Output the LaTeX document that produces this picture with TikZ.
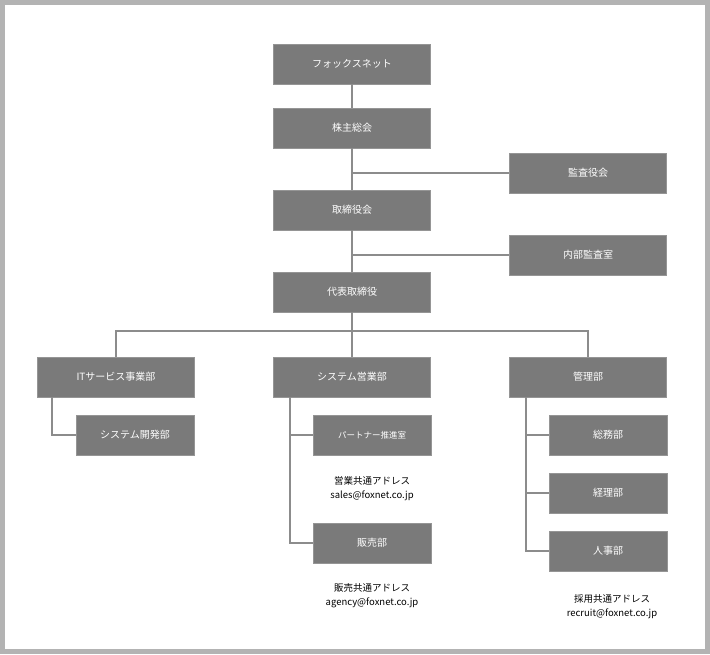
\documentclass[tikz,border=0pt]{standalone}
\usepackage{fontspec}
\setmainfont{Noto Sans CJK JP}
\usetikzlibrary{positioning}
\definecolor{boxgray}{HTML}{7A7A7A}
\definecolor{linegray}{HTML}{8C8C8C}
\definecolor{framegray}{HTML}{B3B3B3}
\tikzset{
  unit/.style={draw=boxgray!80!white, fill=boxgray, text=white,
    minimum width=157pt, minimum height=40pt, inner sep=0pt, font=\fontsize{10}{12}\selectfont},
  subunit/.style={unit, minimum width=118pt},
  link/.style={draw=linegray, line width=2.5pt},
  mail/.style={align=center, font=\fontsize{9.5}{14}\selectfont}
}
\begin{document}
\begin{tikzpicture}[x=1pt,y=-1pt]
   \useasboundingbox (0,0) rectangle (710,654);
   \draw[framegray, line width=5pt] (2.5,2.5) rectangle (707.5,651.5);
   % links are drawn first so that the boxes cover them
   \coordinate (bus) at (352,331);
   \coordinate (busL) at (116,331);
   \coordinate (busR) at (588,331);
   \coordinate (itv) at (52,397);
   \coordinate (salv) at (290,397);
   \coordinate (admv) at (526,397);
   \node[unit] (fox) at (352,64) {フォックスネット};
   \node[unit] (share) at (352,128) {株主総会};
   \node[unit] (audit) at (588,173) {監査役会};
   \node[unit] (board) at (352,210) {取締役会};
   \node[unit] (inaud) at (588,255) {内部監査室};
   \node[unit] (ceo) at (352,292) {代表取締役};
   \node[unit] (it) at (116,377) {ITサービス事業部};
   \node[unit] (sales) at (352,377) {システム営業部};
   \node[unit] (admin) at (588,377) {管理部};
   \node[subunit] (dev) at (135,435) {システム開発部};
   \node[subunit, font=\fontsize{8.5}{10}\selectfont] (partner) at (372,435) {パートナー推進室};
   \node[subunit] (retail) at (372,543) {販売部};
   \node[subunit] (general) at (608,435) {総務部};
   \node[subunit] (account) at (608,493) {経理部};
   \node[subunit] (hr) at (608,551) {人事部};
   \begin{scope}[on background layer/.style={}]
   \end{scope}
   \node[mail] (salesmail) at (372,489) {営業共通アドレス\\sales@foxnet.co.jp};
   \node[mail] (agencymail) at (372,596) {販売共通アドレス\\agency@foxnet.co.jp};
   \node[mail] (recruitmail) at (612,607) {採用共通アドレス\\recruit@foxnet.co.jp};
   % connectors
   \draw[link] (fox) -- (share) -- (board) -- (ceo) -- (bus);
   \draw[link] (share |- audit) -- (audit);
   \draw[link] (board |- inaud) -- (inaud);
   \draw[link] (it) -- (busL) -- (busR) -- (admin);
   \draw[link] (bus) -- (sales);
   \draw[link] (itv) |- (dev);
   \draw[link] (salv) |- (partner);
   \draw[link] (salv) |- (retail);
   \draw[link] (admv) |- (general);
   \draw[link] (admv |- general) |- (account);
   \draw[link] (admv |- account) |- (hr);
\end{tikzpicture}
\end{document}
